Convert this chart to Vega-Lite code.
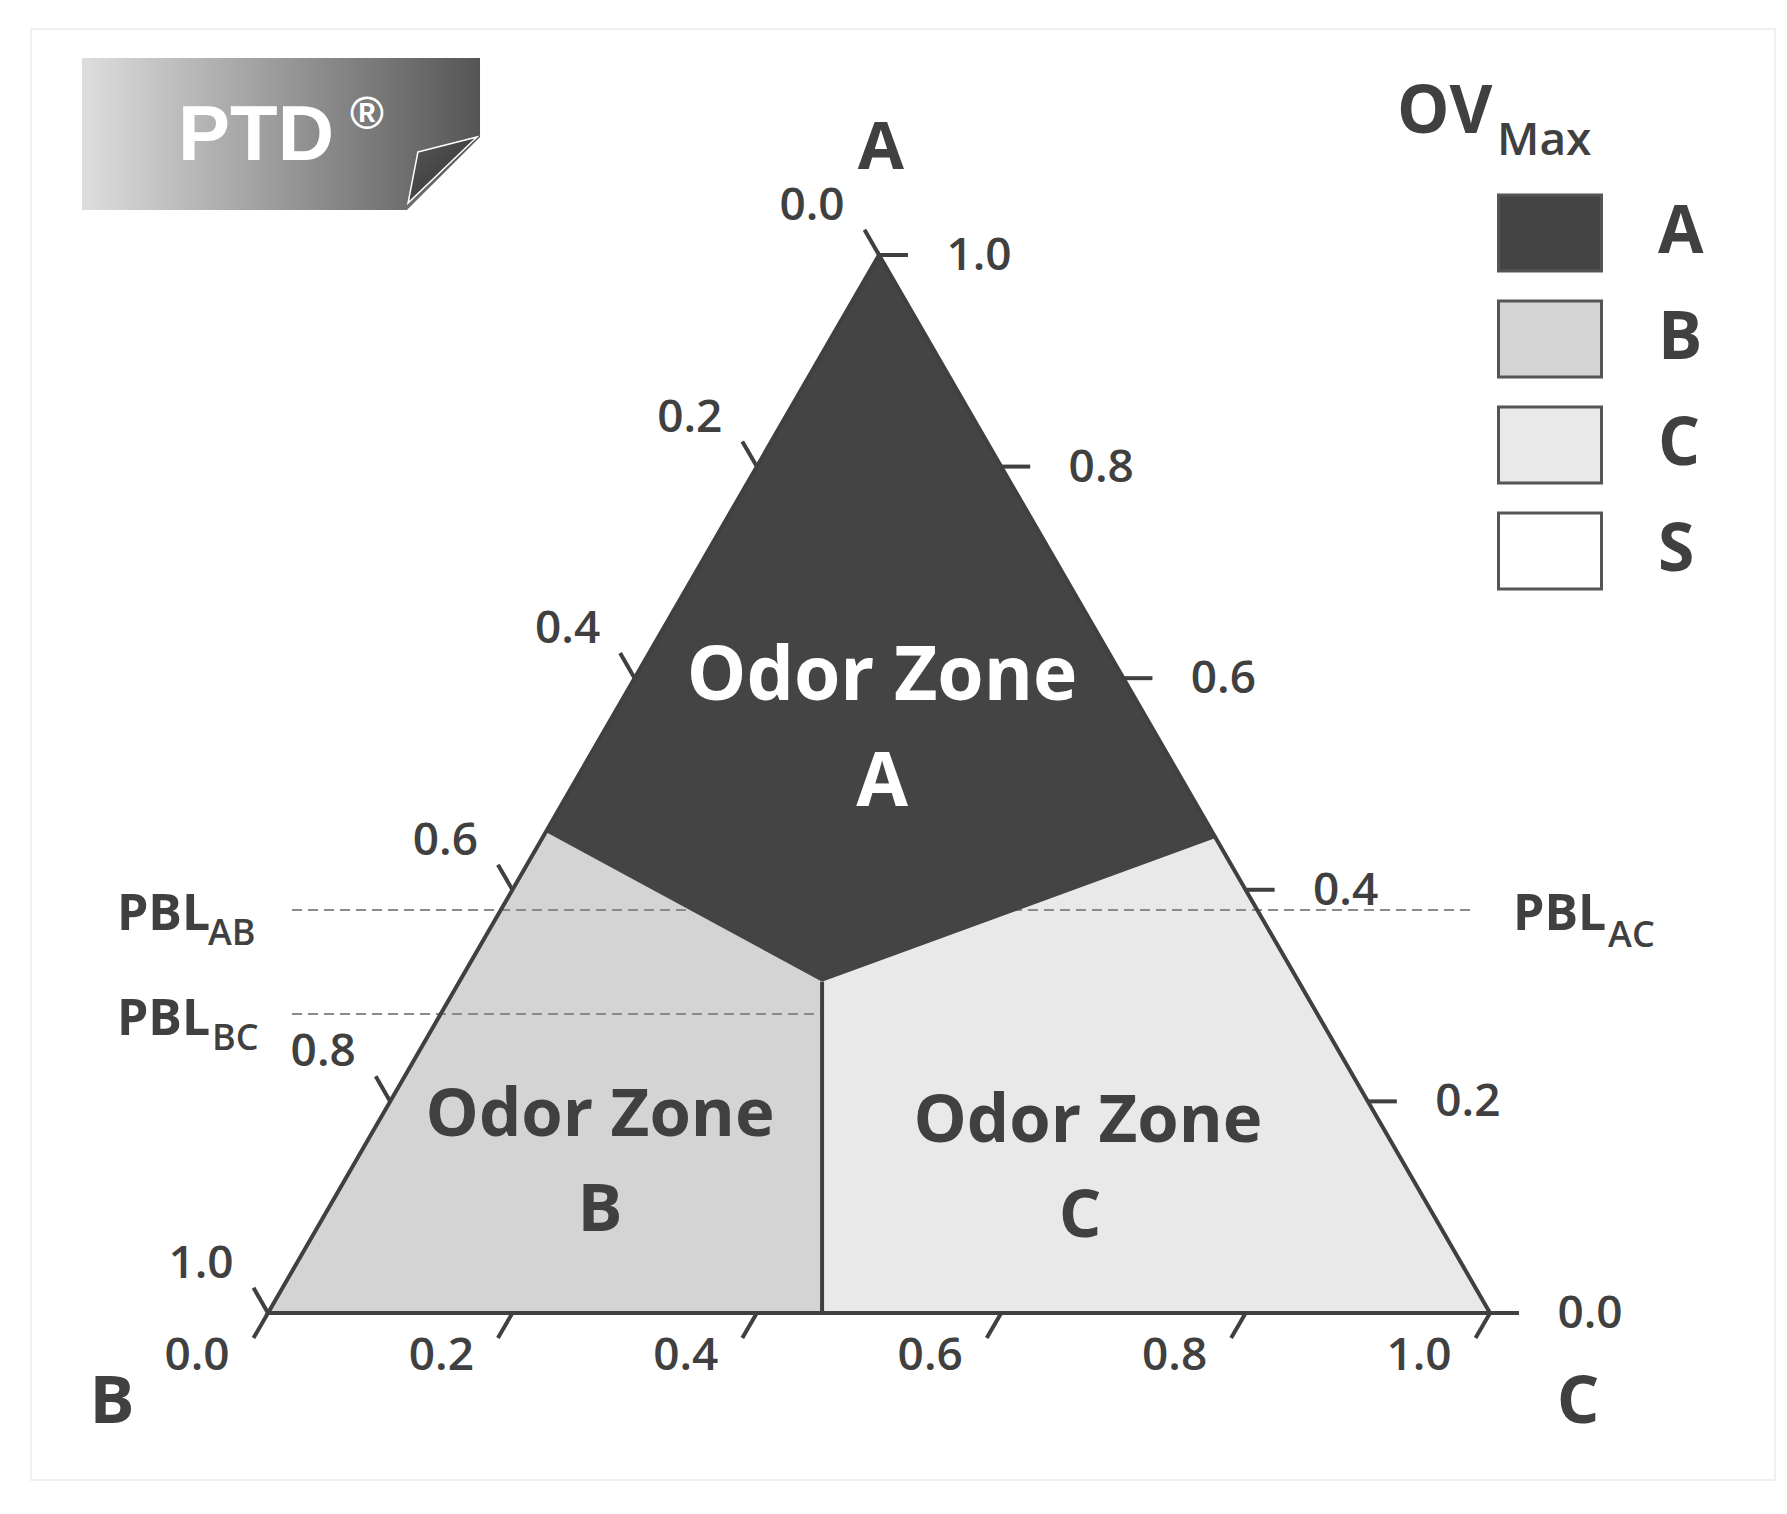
{
  "$schema": "https://vega.github.io/schema/vega-lite/v6.json",
  "width": 1787,
  "height": 1514,
  "autosize": {"type": "fit", "contains": "padding"},
  "padding": 0,
  "background": "white",
  "config": {"view": {"stroke": null}, "font": "Open Sans"},
  "datasets": {
    "frame": [{"x": -0.1939, "x2": 1.2332, "y": 1.2136, "y2": -0.1578}],
    "badge": [
      {"o": 1, "x": -0.1522, "y": 1.1862},
      {"o": 2, "x": 0.1735, "y": 1.1862},
      {"o": 3, "x": 0.1735, "y": 1.1115},
      {"o": 4, "x": 0.1137, "y": 1.0425},
      {"o": 5, "x": -0.1522, "y": 1.0425}
    ],
    "fold": [
      {"o": 1, "x": 0.1227, "y": 1.0974},
      {"o": 2, "x": 0.171, "y": 1.1115},
      {"o": 3, "x": 0.1146, "y": 1.0491}
    ],
    "zones": [
      {"zone": "B", "x": 0, "y": 0, "y2": 0},
      {"zone": "B", "x": 0.2273, "y": 0.4546, "y2": 0},
      {"zone": "B", "x": 0.4534, "y": 0.313, "y2": 0},
      {"zone": "C", "x": 0.4534, "y": 0.313, "y2": 0},
      {"zone": "C", "x": 0.7755, "y": 0.449, "y2": 0},
      {"zone": "C", "x": 1, "y": 0, "y2": 0},
      {"zone": "A", "x": 0.2273, "y": 0.4546, "y2": 0.4546},
      {"zone": "A", "x": 0.4534, "y": 0.9068, "y2": 0.313},
      {"zone": "A", "x": 0.5, "y": 1, "y2": 0.3327},
      {"zone": "A", "x": 0.7755, "y": 0.449, "y2": 0.449}
    ],
    "outline": [
      {"o": 1, "x": 0, "y": 0},
      {"o": 2, "x": 1, "y": 0},
      {"o": 3, "x": 0.5, "y": 1}
    ],
    "divider": [{"x": 0.4534, "y": 0, "y2": 0.313}],
    "pbl": [
      {"name": "PBL_AB / PBL_AC", "x": 0.0196, "x2": 0.9861, "y": 0.3809},
      {"name": "PBL_BC", "x": 0.0196, "x2": 0.4534, "y": 0.2826}
    ],
    "ticks": [
      {"side": "B", "v": 0, "x": 0.5, "y": 1},
      {"side": "B", "v": 0.2, "x": 0.4, "y": 0.8},
      {"side": "B", "v": 0.4, "x": 0.3, "y": 0.6},
      {"side": "B", "v": 0.6, "x": 0.2, "y": 0.4},
      {"side": "B", "v": 0.8, "x": 0.1, "y": 0.2},
      {"side": "B", "v": 1, "x": 0, "y": 0},
      {"side": "A", "v": 1, "x": 0.5, "y": 1},
      {"side": "A", "v": 0.8, "x": 0.6, "y": 0.8},
      {"side": "A", "v": 0.6, "x": 0.7, "y": 0.6},
      {"side": "A", "v": 0.4, "x": 0.8, "y": 0.4},
      {"side": "A", "v": 0.2, "x": 0.9, "y": 0.2},
      {"side": "A", "v": 0, "x": 1, "y": 0},
      {"side": "C", "v": 0, "x": 0, "y": 0},
      {"side": "C", "v": 0.2, "x": 0.2, "y": 0},
      {"side": "C", "v": 0.4, "x": 0.4, "y": 0},
      {"side": "C", "v": 0.6, "x": 0.6, "y": 0},
      {"side": "C", "v": 0.8, "x": 0.8, "y": 0},
      {"side": "C", "v": 1, "x": 1, "y": 0}
    ],
    "texts": [
      {"kind": "corner", "text": "A", "x": 0.5016, "y": 1.0813},
      {"kind": "corner", "text": "B", "x": -0.1277, "y": -0.104},
      {"kind": "corner", "text": "C", "x": 1.072, "y": -0.104},
      {"kind": "zoneLight", "text": "Odor Zone", "x": 0.5025, "y": 0.5794},
      {"kind": "zoneLight", "text": "A", "x": 0.5025, "y": 0.4792},
      {"kind": "zoneDark", "text": "Odor Zone", "x": 0.2717, "y": 0.1673},
      {"kind": "zoneDark", "text": "B", "x": 0.2717, "y": 0.0775},
      {"kind": "zoneDark", "text": "Odor Zone", "x": 0.671, "y": 0.1616},
      {"kind": "zoneDark", "text": "C", "x": 0.6645, "y": 0.0718},
      {"kind": "pbl", "text": "PBL", "x": -0.1236, "y": 0.362},
      {"kind": "sub", "text": "AB", "x": -0.0491, "y": 0.3478},
      {"kind": "pbl", "text": "PBL", "x": -0.1236, "y": 0.2628},
      {"kind": "sub", "text": "BC", "x": -0.0458, "y": 0.2486},
      {"kind": "pbl", "text": "PBL", "x": 1.0188, "y": 0.362},
      {"kind": "sub", "text": "AC", "x": 1.0966, "y": 0.3459},
      {"kind": "ov", "text": "OV", "x": 0.9239, "y": 1.1153},
      {"kind": "max", "text": "Max", "x": 1.0057, "y": 1.0946},
      {"kind": "ptd", "text": "PTD", "x": -0.0736, "y": 1.0898},
      {"kind": "reg", "text": "®", "x": 0.081, "y": 1.119}
    ]
  },
  "encoding": {
    "x": {"field": "x", "type": "quantitative", "scale": {"domain": [-0.2193, 1.243], "nice": false, "zero": false}, "axis": null},
    "y": {"field": "y", "type": "quantitative", "scale": {"domain": [-0.19, 1.241], "nice": false, "zero": false}, "axis": null}
  },
  "layer": [
    {
      "data": {"name": "frame"},
      "mark": {"type": "rect", "fill": null, "stroke": "#f0f0f0", "strokeWidth": 2},
      "encoding": {"x2": {"field": "x2"}, "y2": {"field": "y2"}}
    },
    {
      "data": {"name": "badge"},
      "mark": {
        "type": "line", "interpolate": "linear-closed", "strokeWidth": 0,
        "fill": {"gradient": "linear", "x1": 0, "y1": 0, "x2": 1, "y2": 0,
          "stops": [{"offset": 0, "color": "#dedede"}, {"offset": 1, "color": "#555555"}]}
      },
      "encoding": {"order": {"field": "o", "type": "quantitative"}}
    },
    {
      "data": {"name": "fold"},
      "mark": {
        "type": "line", "interpolate": "linear-closed", "stroke": "#ffffff", "strokeWidth": 1.5,
        "fill": {"gradient": "linear", "x1": 0, "y1": 0, "x2": 1, "y2": 1,
          "stops": [{"offset": 0, "color": "#5a5a5a"}, {"offset": 1, "color": "#2e2e2e"}]}
      },
      "encoding": {"order": {"field": "o", "type": "quantitative"}}
    },
    {
      "data": {"name": "zones"},
      "transform": [{"filter": "datum.zone !== 'A'"}],
      "mark": {"type": "area", "opacity": 1, "interpolate": "linear"},
      "encoding": {
        "y": {"field": "y", "type": "quantitative", "stack": null},
        "y2": {"field": "y2"},
        "fill": {
          "field": "zone", "type": "nominal",
          "scale": {"domain": ["A", "B", "C", "S"], "range": ["#444444", "#d4d4d4", "#e9e9e9", "#ffffff"]},
          "legend": {
            "title": null, "orient": "none", "legendX": 1497, "legendY": 180,
            "symbolType": "M-1,-0.74H1V0.74H-1Z", "symbolSize": 10609,
            "symbolStrokeColor": "#555555", "symbolStrokeWidth": 3, "symbolOpacity": 1,
            "labelFont": "Open Sans", "labelFontSize": 66, "labelFontWeight": "bold",
            "labelColor": "#404040", "labelOffset": 55, "rowPadding": 8, "padding": 0
          }
        }
      }
    },
    {
      "data": {"name": "pbl"},
      "mark": {"type": "rule", "stroke": "#8a8a8a", "strokeWidth": 2, "strokeDash": [10, 6]},
      "encoding": {"x2": {"field": "x2"}}
    },
    {
      "data": {"name": "zones"},
      "transform": [{"filter": "datum.zone === 'A'"}],
      "mark": {"type": "area", "opacity": 1, "interpolate": "linear"},
      "encoding": {
        "y": {"field": "y", "type": "quantitative", "stack": null},
        "y2": {"field": "y2"},
        "fill": {
          "field": "zone", "type": "nominal",
          "scale": {"domain": ["A", "B", "C", "S"], "range": ["#444444", "#d4d4d4", "#e9e9e9", "#ffffff"]},
          "legend": {
            "title": null, "orient": "none", "legendX": 1497, "legendY": 180,
            "symbolType": "M-1,-0.74H1V0.74H-1Z", "symbolSize": 10609,
            "symbolStrokeColor": "#555555", "symbolStrokeWidth": 3, "symbolOpacity": 1,
            "labelFont": "Open Sans", "labelFontSize": 66, "labelFontWeight": "bold",
            "labelColor": "#404040", "labelOffset": 55, "rowPadding": 8, "padding": 0
          }
        }
      }
    },
    {
      "data": {"name": "outline"},
      "mark": {"type": "line", "interpolate": "linear-closed", "stroke": "#404040", "strokeWidth": 4, "strokeJoin": "miter"},
      "encoding": {"order": {"field": "o", "type": "quantitative"}}
    },
    {
      "data": {"name": "divider"},
      "mark": {"type": "rule", "stroke": "#404040", "strokeWidth": 4},
      "encoding": {"y2": {"field": "y2"}}
    },
    {
      "data": {"name": "ticks"},
      "transform": [{"filter": "datum.side === 'B'"}],
      "mark": {"type": "point", "shape": "M0,0L-1,-1.732", "size": 841, "filled": false, "stroke": "#404040", "strokeWidth": 4, "opacity": 1}
    },
    {
      "data": {"name": "ticks"},
      "transform": [{"filter": "datum.side === 'A'"}],
      "mark": {"type": "point", "shape": "M0,0L2,0", "size": 841, "filled": false, "stroke": "#404040", "strokeWidth": 4, "opacity": 1}
    },
    {
      "data": {"name": "ticks"},
      "transform": [{"filter": "datum.side === 'C'"}],
      "mark": {"type": "point", "shape": "M0,0L-1,1.732", "size": 841, "filled": false, "stroke": "#404040", "strokeWidth": 4, "opacity": 1}
    },
    {
      "data": {"name": "ticks"},
      "transform": [{"filter": "datum.side === 'B'"}],
      "mark": {"type": "text", "font": "Open Sans", "fontSize": 46, "fontWeight": 600, "fill": "#404040", "align": "center", "baseline": "middle", "dx": -67, "dy": -49},
      "encoding": {"text": {"field": "v", "type": "quantitative", "format": ".1f"}}
    },
    {
      "data": {"name": "ticks"},
      "transform": [{"filter": "datum.side === 'A'"}],
      "mark": {"type": "text", "font": "Open Sans", "fontSize": 46, "fontWeight": 600, "fill": "#404040", "align": "center", "baseline": "middle", "dx": 100, "dy": 1},
      "encoding": {"text": {"field": "v", "type": "quantitative", "format": ".1f"}}
    },
    {
      "data": {"name": "ticks"},
      "transform": [{"filter": "datum.side === 'C'"}],
      "mark": {"type": "text", "font": "Open Sans", "fontSize": 46, "fontWeight": 600, "fill": "#404040", "align": "center", "baseline": "middle", "dx": -71, "dy": 43},
      "encoding": {"text": {"field": "v", "type": "quantitative", "format": ".1f"}}
    },
    {
      "data": {"name": "texts"},
      "transform": [{"filter": "datum.kind === 'corner'"}],
      "mark": {"type": "text", "font": "Open Sans", "fontSize": 67, "fontWeight": "bold", "fill": "#404040", "align": "center", "baseline": "alphabetic"},
      "encoding": {"text": {"field": "text"}}
    },
    {
      "data": {"name": "texts"},
      "transform": [{"filter": "datum.kind === 'zoneLight'"}],
      "mark": {"type": "text", "font": "Open Sans", "fontSize": 75, "fontWeight": "bold", "fill": "#ffffff", "align": "center", "baseline": "alphabetic"},
      "encoding": {"text": {"field": "text"}}
    },
    {
      "data": {"name": "texts"},
      "transform": [{"filter": "datum.kind === 'zoneDark'"}],
      "mark": {"type": "text", "font": "Open Sans", "fontSize": 67, "fontWeight": "bold", "fill": "#404040", "align": "center", "baseline": "alphabetic"},
      "encoding": {"text": {"field": "text"}}
    },
    {
      "data": {"name": "texts"},
      "transform": [{"filter": "datum.kind === 'pbl'"}],
      "mark": {"type": "text", "font": "Open Sans", "fontSize": 50, "fontWeight": "bold", "fill": "#404040", "align": "left", "baseline": "alphabetic"},
      "encoding": {"text": {"field": "text"}}
    },
    {
      "data": {"name": "texts"},
      "transform": [{"filter": "datum.kind === 'sub'"}],
      "mark": {"type": "text", "font": "Open Sans", "fontSize": 36, "fontWeight": 600, "fill": "#404040", "align": "left", "baseline": "alphabetic"},
      "encoding": {"text": {"field": "text"}}
    },
    {
      "data": {"name": "texts"},
      "transform": [{"filter": "datum.kind === 'ov'"}],
      "mark": {"type": "text", "font": "Open Sans", "fontSize": 66, "fontWeight": "bold", "fill": "#404040", "align": "left", "baseline": "alphabetic"},
      "encoding": {"text": {"field": "text"}}
    },
    {
      "data": {"name": "texts"},
      "transform": [{"filter": "datum.kind === 'max'"}],
      "mark": {"type": "text", "font": "Open Sans", "fontSize": 46, "fontWeight": 600, "fill": "#404040", "align": "left", "baseline": "alphabetic"},
      "encoding": {"text": {"field": "text"}}
    },
    {
      "data": {"name": "texts"},
      "transform": [{"filter": "datum.kind === 'ptd'"}],
      "mark": {"type": "text", "font": "Liberation Sans", "fontSize": 78, "fontWeight": "bold", "fill": "#ffffff", "align": "left", "baseline": "alphabetic"},
      "encoding": {"text": {"field": "text"}}
    },
    {
      "data": {"name": "texts"},
      "transform": [{"filter": "datum.kind === 'reg'"}],
      "mark": {"type": "text", "font": "Liberation Sans", "fontSize": 46, "fontWeight": "bold", "fill": "#ffffff", "align": "center", "baseline": "alphabetic"},
      "encoding": {"text": {"field": "text"}}
    }
  ]
}
